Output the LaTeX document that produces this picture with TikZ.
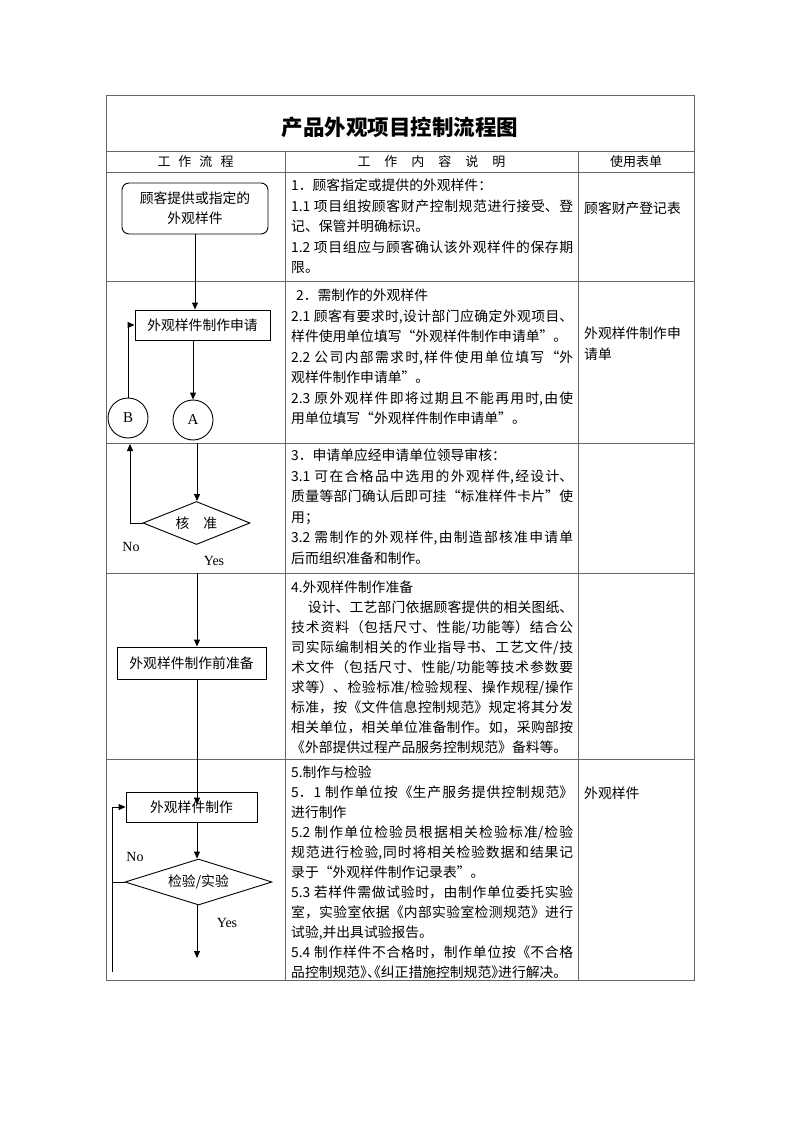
\documentclass[tikz,border=0pt]{standalone}
\usepackage{fontspec}
\setmainfont{Noto Sans CJK SC}
\newfontfamily\latf{Liberation Serif}
\usetikzlibrary{arrows.meta,shapes.geometric,calc}
\XeTeXlinebreaklocale "zh"
\XeTeXlinebreakskip=0pt plus 2pt
\XeTeXlinebreakpenalty=10000
\newcommand\halfk{\kern-0.5em}
\newcommand\bodyinit{\tolerance=10000\relax\parindent=0pt\relax\parskip=0pt\relax}
\tikzset{
  tbl/.style={draw=black!60, line width=1pt},
  flow/.style={draw=black, line width=0.9pt},
  arr/.style={flow, -{Triangle[length=7pt,width=6pt]}},
  rbox/.style={draw, line width=0.9pt, rounded corners=7pt, align=center, inner sep=0pt,
    font=\fontsize{13.8}{20}\selectfont},
  pbox/.style={draw, line width=0.9pt, inner sep=0pt, font=\fontsize{13.8}{16}\selectfont},
  dec/.style={draw, diamond, line width=0.9pt, inner sep=0pt, aspect=2.5,
    font=\fontsize{13.8}{16}\selectfont},
  conn/.style={draw, circle, line width=0.9pt, minimum size=40pt, inner sep=0pt,
    font=\latf\fontsize{15}{15}\selectfont},
  body/.style={anchor=north west, inner sep=0pt, text width=282pt, align=justify,
    font=\fontsize{13.8}{20.5}\selectfont},
  bodyb/.style={body, font=\fontsize{13.8}{20}\selectfont},
  form/.style={inner sep=0pt, align=left, font=\fontsize{13.8}{21}\selectfont},
  hdr/.style={inner sep=0pt, font=\fontsize{13}{15}\selectfont},
  lab/.style={inner sep=0pt, font=\latf\fontsize{14}{14}\selectfont},
}
\begin{document}
\begin{tikzpicture}[x=1pt,y=-1pt]
\useasboundingbox (0,0) rectangle (800,1131);
\fill[white] (0,0) rectangle (800,1131);
% table
\draw[tbl] (106,96) rectangle (694,980);
\foreach \yy in {152,173,282,443,573,759} \draw[tbl] (106,\yy) -- (694,\yy);
\draw[tbl] (285,152) -- (285,980);
\draw[tbl] (578,152) -- (578,980);
% title and header
\node[inner sep=0pt] (title) at (400,127) {\fontsize{21.5}{22}\selectfont\bfseries 产品外观项目控制流程图};
\node[hdr] (h1) at (195.5,162) {工\hspace{8pt}作\hspace{8pt}流\hspace{8pt}程};
\node[hdr] (h2) at (431.5,162) {工\hspace{14pt}作\hspace{14pt}内\hspace{14pt}容\hspace{14pt}说\hspace{14pt}明};
\node[hdr] (h3) at (636,162) {使用表单};
% body texts
\node[body] (t1) at (291,178.7) {\bodyinit 1．顾客指定或提供的外观样件：\par
1.1 项目组按顾客财产控制规范进行接受、登\linebreak 记、保管并明确标识。\par
1.2 项目组应与顾客确认该外观样件的保存期\linebreak 限。};
\node[body] (t2) at (291,288.7) {\bodyinit\hspace*{5pt}2．需制作的外观样件\par
2.1 顾客有要求时,设计部门应确定外观项目、\linebreak 样件使用单位填写“外观样件制作申请单”。\par
2.2 公司内部需求时,样件使用单位填写“外\linebreak 观样件制作申请单”。\par
2.3 原外观样件即将过期且不能再用时,由使\linebreak 用单位填写“外观样件制作申请单”。};
\node[body] (t3) at (291,448.7) {\bodyinit 3．申请单应经申请单位领导审核：\par
3.1 可在合格品中选用的外观样件,经设计、\linebreak 质量等部门确认后即可挂“标准样件卡片”使\linebreak 用；\par
3.2 需制作的外观样件,由制造部核准申请单\linebreak 后而组织准备和制作。};
\node[bodyb] (t4) at (291,580.7) {\bodyinit 4.外观样件制作准备\par
\hspace*{1.2em}设计、工艺部门依据顾客提供的相关图纸、\linebreak 技术资料（包括尺寸、性能/功能等）结合公\linebreak 司实际编制相关的作业指导书、工艺文件/技\linebreak 术文件（包括尺寸、性能/功能等技术参数要\linebreak 求等）、检验标准/检验规程、操作规程/操作\linebreak 标准，按《文件信息控制规范》规定将其分发\linebreak 相关单位，相关单位准备制作。如，采购部按\linebreak 《外部提供过程产品服务控制规范》备料等。};
\node[bodyb] (t5) at (291,765.7) {\bodyinit 5.制作与检验\par
5．1 制作单位按《生产服务提供控制规范》\linebreak 进行制作\par
5.2 制作单位检验员根据相关检验标准/检验\linebreak 规范进行检验,同时将相关检验数据和结果记\linebreak 录于“外观样件制作记录表”。\par
5.3 若样件需做试验时，由制作单位委托实验\linebreak 室，实验室依据《内部实验室检测规范》进行\linebreak 试验,并出具试验报告。\par
5.4 制作样件不合格时，制作单位按《不合格\linebreak 品控制规范》\halfk、\halfk\halfk《纠正措施控制规范》\halfk 进行解决。};
% forms column
\node[form, anchor=west] (f1) at (584,208) {顾客财产登记表};
\node[form, anchor=north west] (f2) at (584,326.7) {外观样件制作申\\请单};
\node[form, anchor=west] (f3) at (584,793) {外观样件};
% flow nodes
\node[rbox, minimum width=146pt, minimum height=51pt] (r1) at (195,208.5) {顾客提供或指定的\\外观样件};
\node[pbox, minimum width=135pt, minimum height=30pt] (b1) at (202.5,325) {外观样件制作申请};
\node[conn] (cA) at (193,420) {A};
\node[conn] (cB) at (128,418) {B};
\node[dec, minimum width=107pt, minimum height=43pt] (d1) at (196.5,523) {核\hspace{14pt}准};
\node[pbox, minimum width=149pt, minimum height=32pt] (b2) at (191.5,663) {外观样件制作前准备};
\node[pbox, minimum width=131pt, minimum height=30pt] (b3) at (191.5,807) {外观样件制作};
\node[dec, minimum width=147pt, minimum height=46pt] (d2) at (198.5,882) {检验/实验};
% labels
\node[lab] (no1) at (131,547) {No};
\node[lab] (yes1) at (214,561) {Yes};
\node[lab] (no2) at (135,857) {No};
\node[lab] (yes2) at (227,923) {Yes};
% coordinates
\coordinate (Ain) at (197,443);
\coordinate (Bout) at (130,444);
\coordinate (Yin) at (197,573);
\coordinate (Lb) at (112,972);
\coordinate (Yout) at (197,958);
% connectors
\draw[arr] (r1.south) -- (r1.south |- b1.north);
\draw[arr] (b1.south -| cA.north) -- (cA.north);
\draw[arr] (cB.north) |- (b1.west);
\draw[arr] (Ain) -- (Ain |- d1.north);
\draw[flow] (d1.west) -- (d1.west -| Bout);
\draw[arr] (d1.west -| Bout) -- (Bout);
\draw[arr] (Yin) -- (Yin |- b2.north);
\draw[arr] (b2.south -| Yin) -- ($(b3.north -| Yin)+(0,13)$);
\draw[arr] (b3.south -| Yin) -- (Yin |- d2.north);
\draw[flow] (d2.west) -- (d2.west -| Lb);
\draw[arr] (Lb) |- (b3.west);
\draw[arr] (d2.south -| Yin) -- (Yout);
\end{tikzpicture}
\end{document}
